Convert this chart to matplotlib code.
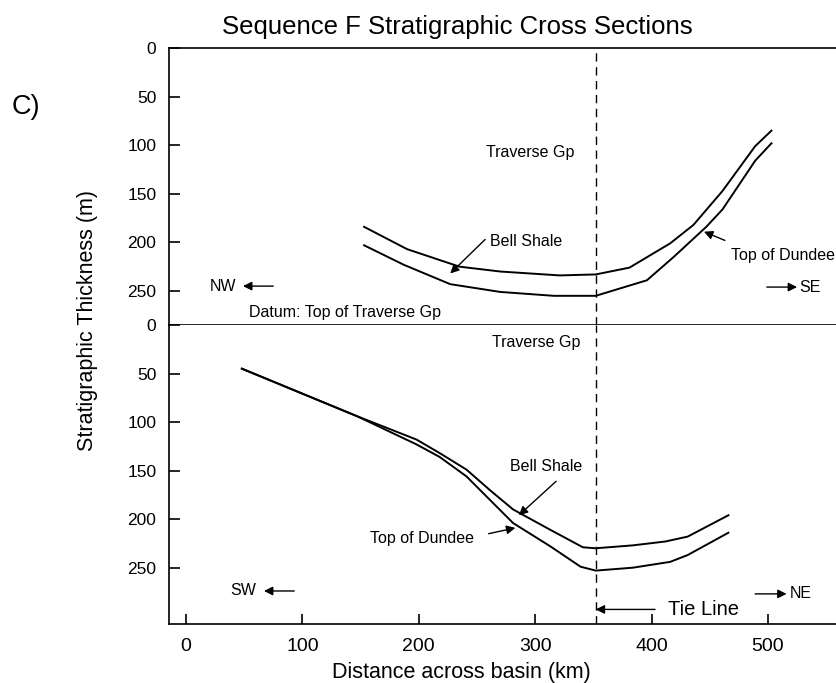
import matplotlib
matplotlib.use("Agg")
import matplotlib.pyplot as plt

plt.rcParams['font.family'] = ['Liberation Sans', 'DejaVu Sans']

# top section (NW - SE), values in km / m
nw_x = [153, 190, 235, 270, 321, 352, 381, 416, 436, 461, 489, 503]
nw_bell = [184, 207, 225, 230, 234, 233, 226, 201, 182, 147, 101, 85]
nw_dx = [153, 187, 227, 270, 316, 352, 396, 419, 447, 461, 489, 503]
nw_dundee = [203, 223, 243, 251, 255, 255, 239, 215, 184, 166, 116, 98]

# bottom section (SW - NE)
sw_x = [48, 147, 198, 218, 241, 261, 281, 313, 341, 352, 384, 412, 431, 466]
sw_bell = [45, 94, 118, 132, 149, 170, 190, 211, 229, 230, 227, 223, 218, 196]
sw_dx = [48, 147, 198, 218, 241, 261, 281, 313, 339, 352, 384, 416, 431, 466]
sw_dundee = [45, 94, 123, 136, 156, 180, 204, 228, 249, 253, 250, 244, 237, 214]

tie_km = 352
xticks = [0, 100, 200, 300, 400, 500]
yticks = [0, 50, 100, 150, 200, 250]

fig = plt.figure(figsize=(8.37, 6.83), dpi=100)
ax1 = fig.add_axes([0.2019, 0.5242, 0.7981, 0.4055])
ax2 = fig.add_axes([0.2019, 0.0864, 0.7981, 0.4378])

arrow = dict(arrowstyle='-|>', color='k', lw=1.0, mutation_scale=13, shrinkA=0, shrinkB=0)
fs = 11.5

for ax in (ax1, ax2):
    ax.set_xlim(-14.6, 559.3)
    ax.spines['right'].set_visible(False)
    for s in ax.spines.values():
        s.set_linewidth(1.2)
    ax.set_yticks(yticks)
    ax.tick_params(axis='y', direction='in', length=8, width=1.2, pad=9, labelsize=12.5)
    ax.axvline(tie_km, color='k', lw=1.0, ls=(0, (6, 4)))

ax1.set_ylim(285, 0)
ax2.set_ylim(308, 0)
ax1.set_xticks([])
ax2.spines['top'].set_visible(False)
ax2.set_xticks(xticks)
ax2.tick_params(axis='x', direction='in', length=7, width=1.2, pad=10, labelsize=14)

# top panel
ax1.plot(nw_x, nw_bell, color='k', lw=1.4)
ax1.plot(nw_dx, nw_dundee, color='k', lw=1.4)
ax1.text(258, 108, 'Traverse Gp', fontsize=fs, va='center')
ax1.text(261, 199, 'Bell Shale', fontsize=fs, va='center')
ax1.annotate('', xy=(227, 232), xytext=(257, 197), arrowprops=arrow)
ax1.text(468, 213, 'Top of Dundee', fontsize=fs, va='center')
ax1.annotate('', xy=(445, 189), xytext=(463, 198), arrowprops=arrow)
ax1.text(54, 272, 'Datum: Top of Traverse Gp', fontsize=fs, va='center')
ax1.text(20, 245, 'NW', fontsize=fs, va='center')
ax1.annotate('', xy=(49, 245), xytext=(75, 245), arrowprops=arrow)
ax1.annotate('', xy=(525, 246), xytext=(499, 246), arrowprops=arrow)
ax1.text(527, 246, 'SE', fontsize=fs, va='center')

# bottom panel
ax2.plot(sw_x, sw_bell, color='k', lw=1.4)
ax2.plot(sw_dx, sw_dundee, color='k', lw=1.4)
ax2.text(263, 18, 'Traverse Gp', fontsize=fs, va='center')
ax2.text(278, 146, 'Bell Shale', fontsize=fs, va='center')
ax2.annotate('', xy=(286, 196), xytext=(318, 161), arrowprops=arrow)
ax2.text(158, 220, 'Top of Dundee', fontsize=fs, va='center')
ax2.annotate('', xy=(283, 209), xytext=(260, 215), arrowprops=arrow)
ax2.text(38, 274, 'SW', fontsize=fs, va='center')
ax2.annotate('', xy=(67, 274), xytext=(93, 274), arrowprops=arrow)
ax2.annotate('', xy=(516, 277), xytext=(489, 277), arrowprops=arrow)
ax2.text(519, 277, 'NE', fontsize=fs, va='center')
ax2.annotate('', xy=(tie_km, 293), xytext=(403, 293), arrowprops=arrow)
ax2.text(414, 293, 'Tie Line', fontsize=14.5, va='center')

fig.text(0.265, 0.96, 'Sequence F Stratigraphic Cross Sections', fontsize=18.5, va='center')
fig.text(0.104, 0.531, 'Stratigraphic Thickness (m)', fontsize=15.5, rotation=90,
         ha='center', va='center')
fig.text(0.551, 0.016, 'Distance across basin (km)', fontsize=15.5, ha='center', va='center')
fig.text(0.014, 0.843, 'C)', fontsize=19.5, va='center')

fig.savefig('out.png', dpi=100)
